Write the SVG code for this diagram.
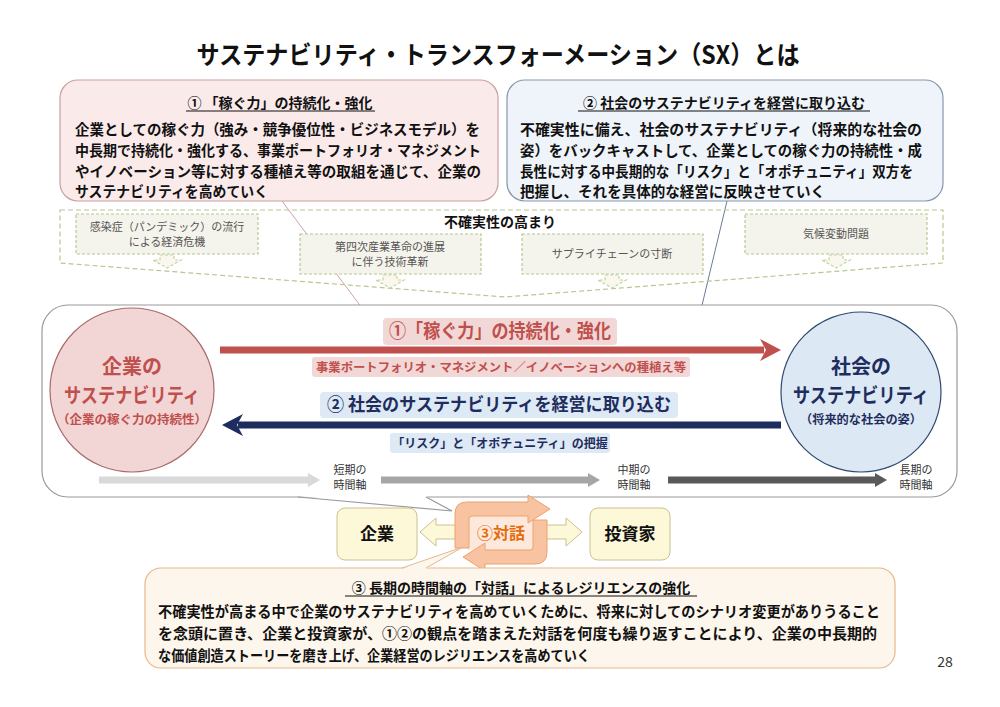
<svg xmlns="http://www.w3.org/2000/svg" width="1000" height="707" viewBox="0 0 1000 707">
<defs>
<style>
text{font-family:"Noto Sans CJK JP","Noto Sans",sans-serif;}
.b{font-weight:700;}
.body{font-size:14.5px;font-weight:700;fill:#111;}
.ttl{font-size:14px;font-weight:700;fill:#111;text-anchor:middle;}
.unc{font-size:11px;fill:#555;text-anchor:middle;}
.dbox{fill:#f5f4ec;stroke:#b5c890;stroke-width:1.2;stroke-dasharray:3 2;}
.darr{fill:#faf8ee;stroke:#c4d4a0;stroke-width:1.2;stroke-dasharray:3 2;}
.tl{font-size:11px;fill:#333;text-anchor:middle;}
.ul{stroke:#111;stroke-width:1;}
</style>
</defs>
<rect width="1000" height="707" fill="#ffffff"/>

<text x="498" y="64" class="b" font-size="25" text-anchor="middle" fill="#111" textLength="603" lengthAdjust="spacingAndGlyphs">サステナビリティ・トランスフォーメーション（SX）とは</text>

<g id="connectors">
<line x1="282" y1="201" x2="368" y2="316" stroke="#c9a3aa" stroke-width="1"/>
<line x1="727" y1="201" x2="698" y2="322" stroke="#6b7b98" stroke-width="1"/>
</g>

<g id="box1">
<rect x="60" y="80" width="438" height="121" rx="18" fill="#fbeaea" stroke="#c9a0a0" stroke-width="1.2"/>
<text x="280" y="108" class="ttl">① 「稼ぐ力」の持続化・強化</text>
<line x1="186" y1="111" x2="375" y2="111" class="ul"/>
<text x="75" y="135" class="body" textLength="405" lengthAdjust="spacingAndGlyphs">企業としての稼ぐ力（強み・競争優位性・ビジネスモデル）を</text>
<text x="75" y="156" class="body" textLength="406" lengthAdjust="spacingAndGlyphs">中長期で持続化・強化する、事業ポートフォリオ・マネジメント</text>
<text x="75" y="177" class="body" textLength="406" lengthAdjust="spacingAndGlyphs">やイノベーション等に対する種植え等の取組を通じて、企業の</text>
<text x="75" y="197" class="body" textLength="193" lengthAdjust="spacingAndGlyphs">サステナビリティを高めていく</text>
</g>

<g id="box2">
<rect x="507" y="80" width="436" height="121" rx="18" fill="#eff4fa" stroke="#8797ae" stroke-width="1.2"/>
<text x="724" y="108" class="ttl">② 社会のサステナビリティを経営に取り込む</text>
<line x1="578" y1="111" x2="870" y2="111" class="ul"/>
<text x="520" y="135" class="body" textLength="402" lengthAdjust="spacingAndGlyphs">不確実性に備え、社会のサステナビリティ（将来的な社会の</text>
<text x="520" y="156" class="body" textLength="402" lengthAdjust="spacingAndGlyphs">姿）をバックキャストして、企業としての稼ぐ力の持続性・成</text>
<text x="520" y="177" class="body" textLength="393" lengthAdjust="spacingAndGlyphs">長性に対する中長期的な「リスク」と「オポチュニティ」双方を</text>
<text x="520" y="197" class="body" textLength="305" lengthAdjust="spacingAndGlyphs">把握し、それを具体的な経営に反映させていく</text>
</g>

<g id="uncertainty">
<polygon points="60,210 943,210 943,263 505,297 60,263" fill="none" stroke="#b5c890" stroke-width="1.2" stroke-dasharray="5 3"/>
<text x="500" y="227" class="b" font-size="14" text-anchor="middle" fill="#111">不確実性の高まり</text>
</g>

<g id="u1">
<rect x="76" y="214" width="182" height="40" class="dbox"/>
<text x="167" y="231" class="unc">感染症（パンデミック）の流行</text>
<text x="167" y="246" class="unc">による経済危機</text>
<polygon points="160,255 174,255 174,260 181,260 167,268 153,260 160,260" class="darr"/>
</g>
<g id="u2">
<rect x="300" y="234" width="181" height="40" class="dbox"/>
<text x="390" y="251" class="unc">第四次産業革命の進展</text>
<text x="390" y="266" class="unc">に伴う技術革新</text>
<polygon points="383,275 397,275 397,280 404,280 390,288 376,280 383,280" class="darr"/>
</g>
<g id="u3">
<rect x="522" y="234" width="181" height="40" class="dbox"/>
<text x="612" y="258" class="unc">サプライチェーンの寸断</text>
<polygon points="605,275 619,275 619,280 626,280 612,288 598,280 605,280" class="darr"/>
</g>
<g id="u4">
<rect x="745" y="214" width="182" height="40" class="dbox"/>
<text x="836" y="238" class="unc">気候変動問題</text>
<polygon points="829,255 843,255 843,260 850,260 836,268 822,260 829,260" class="darr"/>
</g>

<g id="container">
<rect x="42" y="305" width="915" height="192" rx="26" fill="#ffffff" stroke="#9a9a9a" stroke-width="1.2"/>
<polygon points="298,496 452,511 426,496" fill="#ffffff" stroke="none"/>
<polyline points="298,497 452,511 426,497" fill="none" stroke="#9a9a9a" stroke-width="1.2"/>
</g>

<g id="arrow1">
<line x1="220" y1="350" x2="764" y2="350" stroke="#c0504d" stroke-width="7"/>
<polygon points="760,339 781,350 760,361 766,350" fill="#c0504d"/>
<rect x="383" y="318" width="234" height="27" rx="4" fill="#f2d7d7"/>
<text x="500" y="338" class="b" font-size="19" text-anchor="middle" fill="#c0504d" textLength="222" lengthAdjust="spacingAndGlyphs">①「稼ぐ力」の持続化・強化</text>
<rect x="312" y="357" width="378" height="20" rx="3" fill="#f2d7d7"/>
<text x="501" y="372" class="b" font-size="12" text-anchor="middle" fill="#c0504d" textLength="370" lengthAdjust="spacingAndGlyphs">事業ポートフォリオ・マネジメント／イノベーションへの種植え等</text>
</g>

<g id="arrow2">
<line x1="238" y1="425" x2="781" y2="425" stroke="#1f2d5e" stroke-width="7"/>
<polygon points="243,414 222,425 243,436 237,425" fill="#1f2d5e"/>
<rect x="320" y="392" width="358" height="26" rx="4" fill="#dde9f5"/>
<text x="499" y="411" class="b" font-size="18" text-anchor="middle" fill="#1f2d5e" textLength="344" lengthAdjust="spacingAndGlyphs">② 社会のサステナビリティを経営に取り込む</text>
<rect x="390" y="433" width="220" height="20" rx="3" fill="#dde9f5"/>
<text x="500" y="448" class="b" font-size="12" text-anchor="middle" fill="#1f2d5e">「リスク」と「オポチュニティ」の把握</text>
</g>

<g id="circle-company">
<circle cx="132" cy="390" r="82" fill="#f2d6d6" stroke="#a86a6a" stroke-width="1.2"/>
<text x="132" y="374" class="b" font-size="20" text-anchor="middle" fill="#c0504d">企業の</text>
<text x="132" y="403" class="b" font-size="20" text-anchor="middle" fill="#c0504d" textLength="136" lengthAdjust="spacingAndGlyphs">サステナビリティ</text>
<text x="132" y="424" class="b" font-size="12" text-anchor="middle" fill="#c0504d" textLength="150" lengthAdjust="spacingAndGlyphs">（企業の稼ぐ力の持続性）</text>
</g>

<g id="circle-society">
<circle cx="861" cy="392" r="80" fill="#dce9f4" stroke="#2f4a6e" stroke-width="1.2"/>
<text x="861" y="374" class="b" font-size="20" text-anchor="middle" fill="#1f2d5e">社会の</text>
<text x="861" y="403" class="b" font-size="20" text-anchor="middle" fill="#1f2d5e" textLength="136" lengthAdjust="spacingAndGlyphs">サステナビリティ</text>
<text x="861" y="424" class="b" font-size="12" text-anchor="middle" fill="#1f2d5e" textLength="122" lengthAdjust="spacingAndGlyphs">（将来的な社会の姿）</text>
</g>

<g id="timeline">
<line x1="99" y1="480" x2="310" y2="480" stroke="#d9d9d9" stroke-width="7"/>
<polygon points="308,473 320,480 308,487" fill="#d9d9d9"/>
<text x="350" y="474" class="tl">短期の</text>
<text x="350" y="489" class="tl">時間軸</text>
<line x1="381" y1="480" x2="590" y2="480" stroke="#a6a6a6" stroke-width="7"/>
<polygon points="588,473 600,480 588,487" fill="#a6a6a6"/>
<text x="634" y="474" class="tl">中期の</text>
<text x="634" y="489" class="tl">時間軸</text>
<line x1="668" y1="480" x2="877" y2="480" stroke="#595959" stroke-width="7"/>
<polygon points="875,473 887,480 875,487" fill="#595959"/>
<text x="916" y="474" class="tl">長期の</text>
<text x="916" y="489" class="tl">時間軸</text>
</g>

<g id="dialogue-arrows">
<polygon points="420,532 436,518 436,525 460,525 460,539 436,539 436,546" fill="#fdf8d8" stroke="#c8c290" stroke-width="1"/>
<polygon points="582,532 566,518 566,525 544,525 544,539 566,539 566,546" fill="#fdf8d8" stroke="#c8c290" stroke-width="1"/>
</g>

<g id="company">
<rect x="337" y="508" width="80" height="52" rx="8" fill="#fdf8d8" stroke="#c8c290" stroke-width="1"/>
<text x="377" y="540" class="b" font-size="17" text-anchor="middle" fill="#111">企業</text>
</g>
<g id="investor">
<rect x="590" y="508" width="80" height="52" rx="8" fill="#fdf8d8" stroke="#c8c290" stroke-width="1"/>
<text x="630" y="540" class="b" font-size="17" text-anchor="middle" fill="#111">投資家</text>
</g>

<g id="dialogue">
<rect x="468" y="516" width="66" height="34" fill="#fde9dc"/>
<path d="M455,548 L455,514 Q455,502 467,502 L528,502 L528,495 L550,509 L528,523 L528,516 L472,516 Q469,516 469,519 L469,548 Z" fill="#f7c3a0" stroke="#f0a070" stroke-width="1"/>
<path d="M547,520 L547,552 Q547,564 535,564 L485,564 L485,571 L463,557 L485,543 L485,550 L530,550 Q533,550 533,547 L533,520 Z" fill="#f7c3a0" stroke="#f0a070" stroke-width="1"/>
<text x="501" y="539" class="b" font-size="16" text-anchor="middle" fill="#e46c0a">③対話</text>
</g>

<g id="box3">
<rect x="145" y="568" width="750" height="100" rx="16" fill="#fdf6ec" stroke="#e6b88a" stroke-width="1.2"/>
<polygon points="402,569 463,547 426,569" fill="#fdf6ec" stroke="none"/>
<polyline points="402,568 463,547 426,568" fill="none" stroke="#e6b88a" stroke-width="1"/>
<text x="521" y="593" class="ttl">③ 長期の時間軸の「対話」によるレジリエンスの強化</text>
<line x1="345" y1="596" x2="697" y2="596" class="ul"/>
<text x="158" y="617" class="body" textLength="722" lengthAdjust="spacingAndGlyphs">不確実性が高まる中で企業のサステナビリティを高めていくために、将来に対してのシナリオ変更がありうること</text>
<text x="158" y="639" class="body" textLength="719" lengthAdjust="spacingAndGlyphs">を念頭に置き、企業と投資家が、①②の観点を踏まえた対話を何度も繰り返すことにより、企業の中長期的</text>
<text x="158" y="661" class="body" textLength="432" lengthAdjust="spacingAndGlyphs">な価値創造ストーリーを磨き上げ、企業経営のレジリエンスを高めていく</text>
</g>

<text x="945" y="667" font-size="14" text-anchor="middle" fill="#333">28</text>
</svg>
